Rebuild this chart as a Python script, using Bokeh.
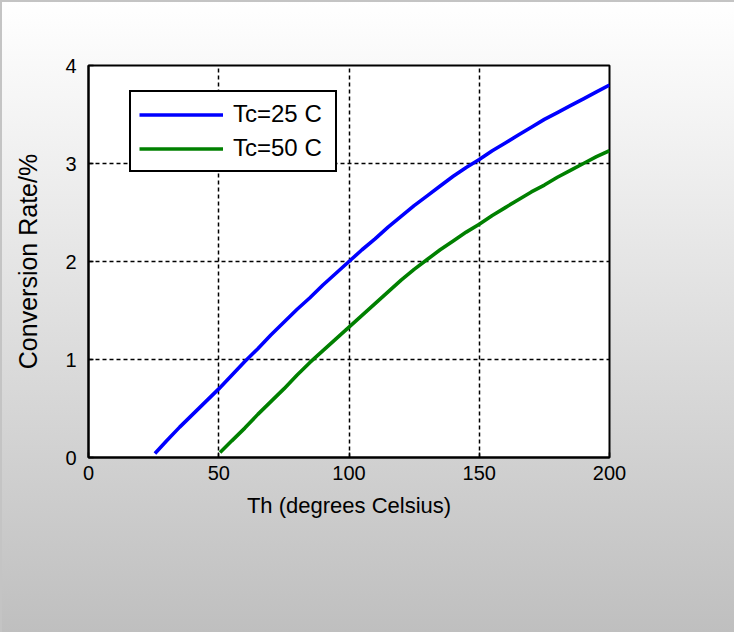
from bokeh.plotting import figure
from bokeh.models import Range1d, Legend, LegendItem, FixedTicker, InlineStyleSheet
from bokeh.embed import file_html
from bokeh.resources import INLINE

# Data
th_25 = [25.5, 30, 35, 40, 45, 50, 55, 60, 65, 70, 75, 80, 85, 90, 95, 100, 105, 110, 115,
         120, 125, 130, 135, 140, 145, 150, 155, 160, 165, 170, 175, 180, 185, 190, 195, 200]
rate_25 = [0.04, 0.17, 0.31, 0.44, 0.57, 0.70, 0.84, 0.98, 1.11, 1.25, 1.38, 1.51, 1.63, 1.76,
           1.88, 2.00, 2.12, 2.23, 2.35, 2.46, 2.57, 2.67, 2.77, 2.87, 2.96, 3.04, 3.13, 3.21,
           3.29, 3.37, 3.45, 3.52, 3.59, 3.66, 3.73, 3.80]
th_50 = [50.5, 55, 60, 65, 70, 75, 80, 85, 90, 95, 100, 105, 110, 115, 120, 125, 130, 135, 140,
         145, 150, 155, 160, 165, 170, 175, 180, 185, 190, 195, 200]
rate_50 = [0.05, 0.17, 0.30, 0.44, 0.57, 0.70, 0.84, 0.97, 1.09, 1.21, 1.33, 1.45, 1.57, 1.69,
           1.81, 1.92, 2.02, 2.12, 2.21, 2.30, 2.38, 2.47, 2.55, 2.63, 2.71, 2.78, 2.86, 2.93,
           3.00, 3.07, 3.13]
series_labels = ["Tc=25 C", "Tc=50 C"]
x_ticks = [0, 50, 100, 150, 200]
y_ticks = [0, 1, 2, 3, 4]

FONT = "Liberation Sans"

p = figure(output_backend="svg", toolbar_location=None,
           frame_width=521, frame_height=392,
           x_range=Range1d(0, 200), y_range=Range1d(0, 4))
p.min_border_left = 88
p.min_border_right = 125
p.min_border_top = 65
p.min_border_bottom = 175

p.border_fill_color = None
p.background_fill_color = "white"
p.stylesheets = [InlineStyleSheet(css=""":host {
  background: linear-gradient(to bottom, #ffffff 0%, #f6f6f6 15%, #bfbfbf 100%);
  box-shadow: inset 2px 2px 0 #c4c4c4;
}""")]

p.outline_line_color = "black"
p.outline_line_width = 2
p.outline_line_alpha = 1

for ax in (p.xaxis[0], p.yaxis[0]):
    ax.axis_line_color = "black"
    ax.axis_line_width = 2
    ax.major_tick_in = 5
    ax.major_tick_out = 0
    ax.minor_tick_line_color = None
    ax.major_tick_line_color = "black"
    ax.major_tick_line_width = 1.5
    ax.major_label_text_font = FONT
    ax.major_label_text_font_size = "20px"
    ax.major_label_text_color = "black"
    ax.axis_label_text_font = FONT
    ax.axis_label_text_font_style = "normal"
    ax.axis_label_text_color = "black"

p.xaxis.ticker = FixedTicker(ticks=x_ticks)
p.yaxis.ticker = FixedTicker(ticks=y_ticks)
p.xaxis.axis_label = "Th (degrees Celsius)"
p.yaxis.axis_label = "Conversion Rate/%"
p.xaxis.axis_label_text_font_size = "22px"
p.yaxis.axis_label_text_font_size = "25px"
p.xaxis.major_label_standoff = 8
p.yaxis.major_label_standoff = 12
p.xaxis.axis_label_standoff = 10
p.yaxis.axis_label_standoff = 20

for g in (p.xgrid[0], p.ygrid[0]):
    g.grid_line_color = "black"
    g.grid_line_width = 1.5
    g.grid_line_dash = "4 3"
p.xgrid.ticker = FixedTicker(ticks=x_ticks)
p.ygrid.ticker = FixedTicker(ticks=y_ticks)

r1 = p.line(th_25, rate_25, line_color="#0000ff", line_width=3.6)
r2 = p.line(th_50, rate_50, line_color="#008000", line_width=3.6)

legend = Legend(items=[LegendItem(label=series_labels[0], renderers=[r1]),
                       LegendItem(label=series_labels[1], renderers=[r2])],
                location=(41, 285))
legend.label_text_font = FONT
legend.label_text_font_size = "24px"
legend.label_text_color = "black"
legend.glyph_width = 84
legend.glyph_height = 27
legend.label_height = 27
legend.label_width = 94
legend.label_standoff = 10
legend.padding = 8
legend.spacing = 6
legend.margin = 0
legend.border_line_color = "black"
legend.border_line_alpha = 1
legend.border_line_width = 2
legend.background_fill_color = "white"
legend.background_fill_alpha = 1
p.add_layout(legend, "center")

open("out.html", "w").write(file_html(p, INLINE))
